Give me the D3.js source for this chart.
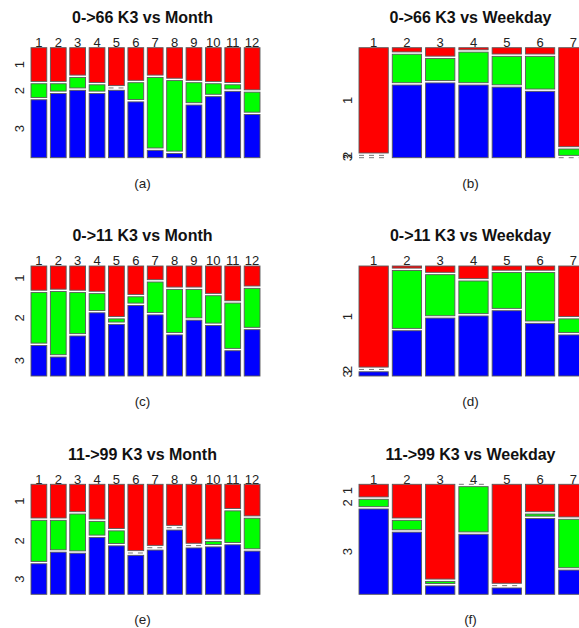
<!DOCTYPE html>
<html>
<head>
<meta charset="utf-8">
<script src="https://cdn.jsdelivr.net/npm/d3@7"></script>
<style>
  html, body { margin: 0; padding: 0; background: #fff; }
  svg { display: block; font-family: "Liberation Sans", Arial, Helvetica, sans-serif; }
</style>
</head>
<body>
<svg id="chart" width="579" height="628"></svg>
<script>
// Category labels
const months = ["1","2","3","4","5","6","7","8","9","10","11","12"];
const weekdays = ["1","2","3","4","5","6","7"];
const classes = ["1","2","3"];
const classColors = ["#ff0000", "#00ff00", "#0000ff"];

// Share (%) of K3 classes 1, 2, 3 within each month / weekday
const k3Month0to66 = [
  [32,13,55],[32,7,61],[26,10,64],[33,6,61],[36,0,64],[31,16,53],
  [26,67,7],[29,67,4],[31,19,50],[32,10,58],[33,4,63],[40,19,41]
];
const k3Weekday0to66 = [
  [100,0,0],[4,27,69],[8,21,71],[2,29,69],[6,27,67],[6,31,63],[94,6,0]
];
const k3Month0to11 = [
  [23,48,29],[22,60,18],[23,39,38],[24,16,60],[48,3,49],[27,6,67],
  [13,29,58],[20,41,39],[20,27,53],[26,26,48],[33,43,24],[19,37,44]
];
const k3Weekday0to11 = [
  [96,0,4],[2,55,43],[6,39,55],[12,31,57],[4,34,62],[4,46,50],[48,13,39]
];
const k3Month11to99 = [
  [32,39,29],[32,28,40],[26,35,39],[33,13,54],[42,12,46],[63,0,37],
  [58,0,42],[39,0,61],[56,0,44],[52,3,45],[23,30,47],[30,29,41]
];
const k3Weekday11to99 = [
  [12,7,81],[32,9,59],[90,2,8],[0,43,57],[94,0,6],[26,2,72],[31,46,23]
];

const panels = [
  {title: "0->66 K3 vs Month",    tag: "(a)", cats: months,   data: k3Month0to66,    c: 0, r: 0},
  {title: "0->66 K3 vs Weekday",  tag: "(b)", cats: weekdays, data: k3Weekday0to66,  c: 1, r: 0},
  {title: "0->11 K3 vs Month",    tag: "(c)", cats: months,   data: k3Month0to11,    c: 0, r: 1},
  {title: "0->11 K3 vs Weekday",  tag: "(d)", cats: weekdays, data: k3Weekday0to11,  c: 1, r: 1},
  {title: "11->99 K3 vs Month",   tag: "(e)", cats: months,   data: k3Month11to99,   c: 0, r: 2},
  {title: "11->99 K3 vs Weekday", tag: "(f)", cats: weekdays, data: k3Weekday11to99, c: 1, r: 2}
];

// Grid layout of the mosaic panels
const colLeft = [31, 359];
const rowTop = [47.7, 266, 484.3];
const plotW = 229, plotH = 110;
const vGap = 2.35;       // space between stacked cells
const colGapPx = {12: 3.6, 7: 4.0};

const svg = d3.select("#chart");
svg.append("rect").attr("width", 579).attr("height", 628).attr("fill", "#fff");

panels.forEach(p => {
  const x0 = colLeft[p.c], y0 = rowTop[p.r];
  const n = p.cats.length;
  const gap = colGapPx[n];
  const pad = gap * n / (plotW + gap);
  const x = d3.scaleBand().domain(p.cats).range([x0, x0 + plotW])
    .paddingInner(pad).paddingOuter(0);
  const avail = plotH - (classes.length - 1) * vGap;

  const g = svg.append("g");

  // Title, column labels and panel tag
  g.append("text")
    .attr("x", x0 + 111.5).attr("y", y0 - 30.3).attr("dy", "0.35em")
    .attr("text-anchor", "middle").attr("font-size", 16).attr("font-weight", "bold")
    .attr("fill", "#111").text(p.title);
  g.append("text")
    .attr("x", x0 + 111.5).attr("y", y0 + 135.4).attr("dy", "0.35em")
    .attr("text-anchor", "middle").attr("font-size", 13.5)
    .attr("fill", "#222").text(p.tag);

  g.selectAll("text.col").data(p.cats).join("text")
    .attr("class", "col")
    .attr("x", d => x(d) + x.bandwidth() / 2)
    .attr("y", y0 - 0.8)
    .attr("text-anchor", "middle").attr("font-size", 13).attr("fill", "#222")
    .text(d => d);

  p.data.forEach((vals, i) => {
    const total = d3.sum(vals);
    const y = d3.scaleLinear().domain([0, total]).range([0, avail]);
    const cx = x(p.cats[i]), w = x.bandwidth();
    let yy = y0;
    vals.forEach((v, k) => {
      const h = y(v);
      if (v === 0) {
        g.append("line")
          .attr("x1", cx).attr("x2", cx + w)
          .attr("y1", yy).attr("y2", yy)
          .attr("stroke", "#777").attr("stroke-width", 1)
          .attr("stroke-dasharray", "5,5");
      } else {
        g.append("rect")
          .attr("x", cx).attr("y", yy).attr("width", w).attr("height", h)
          .attr("fill", classColors[k])
          .attr("stroke", "#5a5a5a").attr("stroke-width", 0.9);
      }
      // row labels follow the cells of the first column
      if (i === 0) {
        const ly = yy + h / 2;
        g.append("text")
          .attr("transform", `translate(${x0 - 11.5},${ly}) rotate(-90)`)
          .attr("dy", "0.35em").attr("text-anchor", "middle")
          .attr("font-size", 13).attr("fill", "#222")
          .text(classes[k]);
      }
      yy += h + vGap;
    });
  });
});
</script>
</body>
</html>
